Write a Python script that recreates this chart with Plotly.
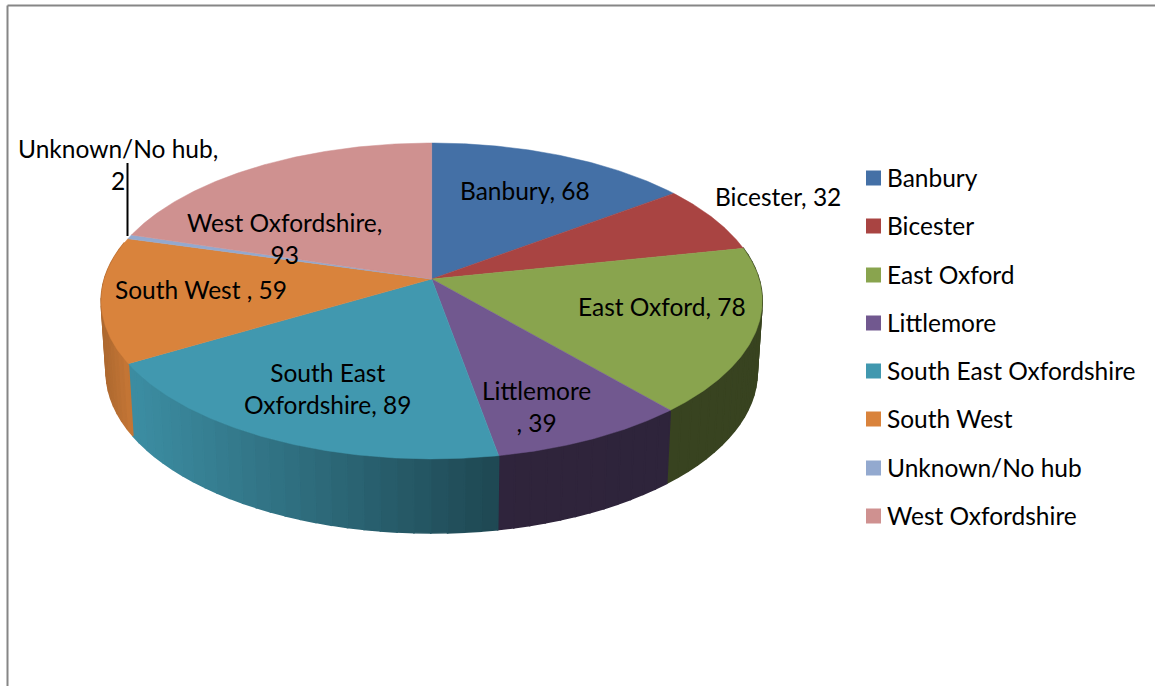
import numpy as np
import plotly.graph_objects as go

categories = ["Banbury", "Bicester", "East Oxford", "Littlemore",
              "South East Oxfordshire", "South West", "Unknown/No hub", "West Oxfordshire"]
values = [68, 32, 78, 39, 89, 59, 2, 93]
colors = ["#4470A6", "#A94442", "#89A44E", "#71588F", "#4198AF", "#D9833C", "#93A9CF", "#CF9190"]
point_labels = ["Banbury, 68", "Bicester, 32", "East Oxford, 78", "Littlemore<br>, 39",
                "South East<br>Oxfordshire, 89", "South West , 59", "Unknown/No hub,<br>2",
                "West Oxfordshire,<br>93"]
label_centres = [(525, 190.5), (778, 196.5), (661.5, 306.5), (536, 406.5), (327.5, 388.5), (201, 289.5), (118, 164.5), (284.5, 238.5)]
legend_rows = [178, 226, 275, 323, 371, 419, 468, 516]

FONT = "Lato"
FS = 24.5
CX, CY, RX, RY, P = 431.7, 279, 327.3, 154.9, 0.139
BX, BY_SCALE, BY = 0.985, 1.02, 349.5


def project(theta):
    u, v = np.sin(theta), np.cos(theta)
    d = 1 + P * v
    return CX + RX * u / d, CY - RY * v / d


def base(x, y):
    return CX + BX * (x - CX), BY + BY_SCALE * (y - CY)


def shade(x):
    return np.interp(x, [100, 133, 499, 500, 763], [0.80, 0.93, 0.47, 0.42, 0.41])


def darken(hex_col, f):
    r, g, b = (int(hex_col[i:i + 2], 16) for i in (1, 3, 5))
    return f"rgb({int(r * f)},{int(g * f)},{int(b * f)})"


fig = go.Figure()
edges = np.cumsum([0] + values) / sum(values) * 2 * np.pi
WALL_FROM, WALL_TO = np.radians(78), np.radians(284)

# side walls
for i, col in enumerate(colors):
    a, b = max(edges[i], WALL_FROM), min(edges[i + 1], WALL_TO)
    if b <= a:
        continue
    n = max(2, int(np.degrees(b - a) / 2.5) + 1)
    th = np.linspace(a, b, n)
    for t0, t1 in zip(th[:-1], th[1:]):
        tt = np.linspace(t0, t1, 3)
        xt, yt = project(tt)
        xb, yb = base(xt, yt)
        c = darken(col, float(shade(xt.mean())))
        fig.add_trace(go.Scatter(
            x=np.r_[xt, xb[::-1], xt[0]], y=np.r_[yt, yb[::-1], yt[0]],
            mode="lines", fill="toself", fillcolor=c, line=dict(color=c, width=1.6),
            hoverinfo="skip", showlegend=False))

# top faces
for i, (name, val, col) in enumerate(zip(categories, values, colors)):
    th = np.linspace(edges[i], edges[i + 1], max(3, int(val * 2)))
    xt, yt = project(th)
    fig.add_trace(go.Scatter(
        x=np.r_[CX, xt, CX], y=np.r_[CY, yt, CY],
        mode="lines", fill="toself", fillcolor=col, line=dict(color=col, width=0.5),
        name=name, text=f"{name}: {val}", hoverinfo="text", showlegend=False))

# legend swatches
fig.add_trace(go.Scatter(
    x=[873.5] * len(categories), y=legend_rows, mode="markers",
    marker=dict(symbol="square", size=15, color=colors, line=dict(width=0)),
    text=categories, hoverinfo="text", showlegend=False))

annotations = [
    dict(x=885, y=yy - 1, text=name, xanchor="left", yanchor="middle", showarrow=False)
    for name, yy in zip(categories, legend_rows)
] + [
    dict(x=px, y=py, text=t, xanchor="center", yanchor="middle", showarrow=False, align="center")
    for t, (px, py) in zip(point_labels, label_centres)
]

shapes = [
    dict(type="line", x0=7.5, x1=7.5, y0=5.5, y1=686, line=dict(color="#868686", width=2)),
    dict(type="line", x0=7.5, x1=1155, y0=5.5, y1=5.5, line=dict(color="#868686", width=2)),
    dict(type="line", x0=127.5, x1=127.5, y0=163, y1=236, line=dict(color="#000000", width=2)),
]

fig.update_layout(
    width=1155, height=686, margin=dict(l=0, r=0, t=0, b=0),
    paper_bgcolor="white", plot_bgcolor="white",
    font=dict(family=FONT, size=FS, color="#000000"),
    xaxis=dict(range=[0, 1155], visible=False, fixedrange=True),
    yaxis=dict(range=[686, 0], visible=False, fixedrange=True),
    annotations=annotations, shapes=shapes, showlegend=False,
)
fig.write_html("out.html", config={"displayModeBar": False},
               post_script="document.body.style.margin='0';document.documentElement.style.overflow='hidden';")
